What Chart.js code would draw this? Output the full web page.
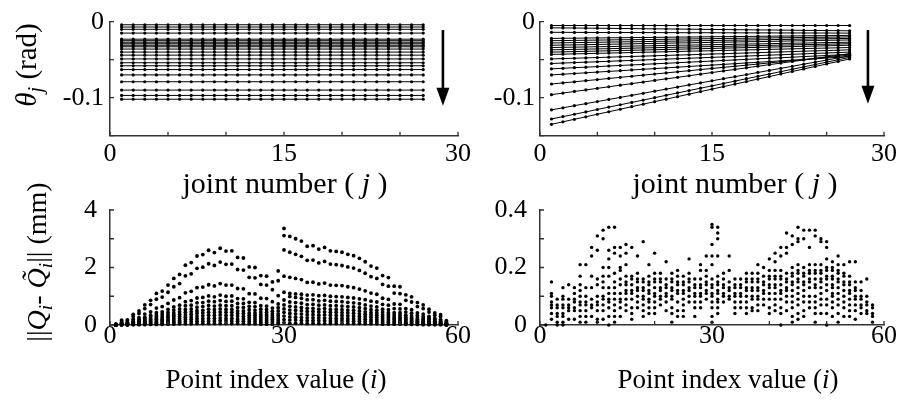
<!DOCTYPE html>
<html>
<head>
<meta charset="utf-8">
<script src="https://cdn.jsdelivr.net/npm/chart.js@4.4.1/dist/chart.umd.min.js"></script>
<style>
  body { margin: 0; background: #fff; }
  #fig { position: relative; width: 906px; height: 401px; overflow: hidden; background: #fff; }
  #fig canvas { position: absolute; left: 0; top: 0; }
  .lab { position: absolute; font-family: 'Liberation Serif', 'Times New Roman', serif; color: #000;
         white-space: nowrap; line-height: 1; transform: translate(-50%, 0); }
  .rot { transform: translate(-50%, -50%) rotate(-90deg); }
  .lab sub { font-size: 0.7em; vertical-align: -0.3em; line-height: 0; }
</style>
</head>
<body>
<div id="fig">
  <canvas id="flat" width="906" height="401"></canvas>
  <canvas id="taper" width="906" height="401"></canvas>
  <canvas id="errA" width="906" height="401"></canvas>
  <canvas id="errB" width="906" height="401"></canvas>

  <div class="lab rot" style="left:26px;top:65px;font-size:29px"><i>θ</i><sub><i>j</i></sub> (rad)</div>
  <div class="lab rot" style="left:37px;top:262px;font-size:28px">||<i>Q</i><sub><i>i</i></sub>- <i>Q̃</i><sub><i>i</i></sub>|| (mm)</div>
  <div class="lab" style="left:285px;top:168px;font-size:30px">joint number ( <i>j</i> )</div>
  <div class="lab" style="left:735px;top:168px;font-size:30px">joint number ( <i>j</i> )</div>
  <div class="lab" style="left:276px;top:366px;font-size:27px">Point index value (<i>i</i>)</div>
  <div class="lab" style="left:728px;top:366px;font-size:27px">Point index value (<i>i</i>)</div>
</div>
<script>
const SERIF = "'Liberation Serif', 'Times New Roman', serif";
const AXIS_COLOR = '#333';

const JOINTS = [1,2,3,4,5,6,7,8,9,10,11,12,13,14,15,16,17,18,19,20,21,22,23,24,25,26,27];

// uniform twist: one angle (rad) held at every joint
const THETA_FLAT = [-0.004,-0.007,-0.010,-0.015,-0.023,-0.025,-0.027,-0.029,-0.031,-0.033,-0.036,
  -0.040,-0.044,-0.049,-0.054,-0.058,-0.063,-0.070,-0.079,-0.090,-0.097,-0.102];

// tapered twist, mrad at joints 1..27
const THETA_TAPER = [
  [-5,-5,-5,-5,-5,-5,-5,-5,-5,-5,-5,-5,-5,-5,-5,-5,-5,-5,-5,-5,-5,-5,-5,-5,-5,-5,-5],
  [-8,-8.2,-8.3,-8.5,-8.6,-8.8,-8.9,-9.1,-9.2,-9.4,-9.5,-9.7,-9.8,-10,-10.2,-10.3,-10.5,-10.6,-10.8,-10.9,-11.1,-11.2,-11.4,-11.5,-11.7,-11.8,-12],
  [-14,-14,-14.1,-14.1,-14.2,-14.2,-14.2,-14.3,-14.3,-14.3,-14.4,-14.4,-14.5,-14.5,-14.5,-14.6,-14.6,-14.7,-14.7,-14.7,-14.8,-14.8,-14.8,-14.9,-14.9,-15,-15],
  [-22,-21.8,-21.7,-21.5,-21.4,-21.2,-21.1,-20.9,-20.8,-20.6,-20.5,-20.3,-20.2,-20,-19.8,-19.7,-19.5,-19.4,-19.2,-19.1,-18.9,-18.8,-18.6,-18.5,-18.3,-18.2,-18],
  [-25,-24.8,-24.6,-24.4,-24.2,-24,-23.8,-23.7,-23.5,-23.3,-23.1,-22.9,-22.7,-22.5,-22.3,-22.1,-21.9,-21.7,-21.5,-21.3,-21.2,-21,-20.8,-20.6,-20.4,-20.2,-20],
  [-28,-27.8,-27.5,-27.3,-27.1,-26.8,-26.6,-26.4,-26.2,-25.9,-25.7,-25.5,-25.2,-25,-24.8,-24.5,-24.3,-24.1,-23.8,-23.6,-23.4,-23.2,-22.9,-22.7,-22.5,-22.2,-22],
  [-31,-30.7,-30.5,-30.2,-29.9,-29.7,-29.4,-29.1,-28.8,-28.6,-28.3,-28,-27.8,-27.5,-27.2,-27,-26.7,-26.4,-26.2,-25.9,-25.6,-25.3,-25.1,-24.8,-24.5,-24.3,-24],
  [-34,-33.7,-33.5,-33.2,-32.9,-32.7,-32.4,-32.1,-31.8,-31.6,-31.3,-31,-30.8,-30.5,-30.2,-30,-29.7,-29.4,-29.2,-28.9,-28.6,-28.3,-28.1,-27.8,-27.5,-27.3,-27],
  [-37,-36.7,-36.4,-36.1,-35.8,-35.5,-35.2,-34.8,-34.5,-34.2,-33.9,-33.6,-33.3,-33,-32.7,-32.4,-32.1,-31.8,-31.5,-31.2,-30.8,-30.5,-30.2,-29.9,-29.6,-29.3,-29],
  [-40,-39.7,-39.3,-39,-38.6,-38.3,-37.9,-37.6,-37.2,-36.9,-36.5,-36.2,-35.8,-35.5,-35.2,-34.8,-34.5,-34.1,-33.8,-33.4,-33.1,-32.7,-32.4,-32,-31.7,-31.3,-31],
  [-43,-42.7,-42.3,-42,-41.6,-41.3,-40.9,-40.6,-40.2,-39.9,-39.5,-39.2,-38.8,-38.5,-38.2,-37.8,-37.5,-37.1,-36.8,-36.4,-36.1,-35.7,-35.4,-35,-34.7,-34.3,-34],
  [-49,-48.5,-48.1,-47.6,-47.2,-46.7,-46.2,-45.8,-45.3,-44.8,-44.4,-43.9,-43.5,-43,-42.5,-42.1,-41.6,-41.2,-40.7,-40.2,-39.8,-39.3,-38.8,-38.4,-37.9,-37.5,-37],
  [-55,-54.4,-53.8,-53.3,-52.7,-52.1,-51.5,-51,-50.4,-49.8,-49.2,-48.7,-48.1,-47.5,-46.9,-46.3,-45.8,-45.2,-44.6,-44,-43.5,-42.9,-42.3,-41.7,-41.2,-40.6,-40],
  [-62,-61.3,-60.5,-59.8,-59.1,-58.3,-57.6,-56.9,-56.2,-55.4,-54.7,-54,-53.2,-52.5,-51.8,-51,-50.3,-49.6,-48.8,-48.1,-47.4,-46.7,-45.9,-45.2,-44.5,-43.7,-43],
  [-70,-69.1,-68.2,-67.2,-66.3,-65.4,-64.5,-63.5,-62.6,-61.7,-60.8,-59.8,-58.9,-58,-57.1,-56.2,-55.2,-54.3,-53.4,-52.5,-51.5,-50.6,-49.7,-48.8,-47.8,-46.9,-46],
  [-82,-80.5,-79.1,-77.6,-76.2,-74.7,-73.2,-71.8,-70.3,-68.8,-67.4,-65.9,-64.5,-63,-61.5,-60.1,-58.6,-57.2,-55.7,-54.2,-52.8,-51.3,-49.8,-48.4,-46.9,-45.5,-44],
  [-96,-93.9,-91.8,-89.8,-87.7,-85.6,-83.5,-81.5,-79.4,-77.3,-75.2,-73.2,-71.1,-69,-66.9,-64.8,-62.8,-60.7,-58.6,-56.5,-54.5,-52.4,-50.3,-48.2,-46.2,-44.1,-42],
  [-116,-113.3,-110.5,-107.8,-105.1,-102.3,-99.6,-96.9,-94.2,-91.4,-88.7,-86,-83.2,-80.5,-77.8,-75,-72.3,-69.6,-66.8,-64.1,-61.4,-58.7,-55.9,-53.2,-50.5,-47.7,-45],
  [-128,-124.9,-121.8,-118.7,-115.5,-112.4,-109.3,-106.2,-103.1,-100,-96.8,-93.7,-90.6,-87.5,-84.4,-81.3,-78.2,-75,-71.9,-68.8,-65.7,-62.6,-59.5,-56.3,-53.2,-50.1,-47],
  [-135,-131.7,-128.4,-125.1,-121.8,-118.5,-115.2,-111.8,-108.5,-105.2,-101.9,-98.6,-95.3,-92,-88.7,-85.4,-82.1,-78.8,-75.5,-72.2,-68.8,-65.5,-62.2,-58.9,-55.6,-52.3,-49]
];

const POINT_INDEX = [1,2,3,4,5,6,7,8,9,10,11,12,13,14,15,16,17,18,19,20,21,22,23,24,25,26,27,28,29,30,
  31,32,33,34,35,36,37,38,39,40,41,42,43,44,45,46,47,48,49,50,51,52,53,54,55,56,57,58];

// position error of the first case, hundredths of mm; one row per configuration
const ERR_ROWS = [
  [3,17,18,37,49,70,86,110,118,139,162,176,208,217,240,245,260,252,267,257,258,235,233,202,200,172,170,150,188,336,
   308,300,292,274,276,264,270,258,256,253,246,241,232,220,205,198,172,165,135,133,105,98,78,70,55,42,36,15],
  [2,14,15,30,40,57,71,90,97,114,133,144,171,178,197,201,213,207,219,211,212,193,191,166,164,141,139,123,154,311,
   253,246,239,225,226,216,221,212,210,207,202,198,190,180,168,162,141,135,111,109,86,80,64,57,45,34,30,12],
  [2,9,10,20,26,38,46,59,64,75,87,95,112,117,130,132,140,136,144,139,139,127,126,109,108,93,92,81,102,261,
   166,162,158,148,149,143,146,139,138,137,133,130,125,119,111,107,93,89,73,72,57,53,42,38,30,23,19,8],
  [1,7,7,14,19,27,34,43,46,54,63,69,81,85,94,96,101,98,104,100,101,92,91,79,78,67,66,59,73,170,
   110,108,107,104,105,102,103,100,99,98,96,94,91,88,83,80,72,69,57,56,45,41,33,29,23,18,15,6],
  [1,5,6,12,16,22,28,35,38,44,52,56,67,69,77,78,83,81,85,82,83,75,75,65,64,55,54,48,60,114,
   99,96,93,88,88,84,86,83,82,81,79,77,74,70,66,63,55,53,43,43,34,31,25,22,18,13,12,5],
  [1,4,5,10,13,18,22,29,31,36,42,46,54,56,62,64,68,66,69,67,67,61,61,53,52,45,44,39,49,87,
   80,78,76,71,72,69,70,67,67,66,64,63,60,57,53,51,45,43,35,35,27,25,20,18,14,11,9,4],
  [1,4,4,8,10,15,18,23,25,29,34,37,44,46,50,51,55,53,56,54,54,49,49,42,42,36,36,32,39,70,
   65,63,61,58,58,55,57,54,54,53,52,51,49,46,43,42,36,35,28,28,22,21,16,15,12,9,8,3],
  [1,3,3,6,8,12,15,19,20,24,28,30,35,37,41,42,44,43,45,44,44,40,40,34,34,29,29,26,32,56,
   52,51,50,47,47,45,46,44,44,43,42,41,39,37,35,34,29,28,23,23,18,17,13,12,9,7,6,3],
  [0,2,2,5,6,9,11,14,15,18,21,23,27,28,31,32,34,33,35,33,34,31,30,26,26,22,22,20,24,44,
   40,39,38,36,36,34,35,34,33,33,32,31,30,29,27,26,22,21,18,17,14,13,10,9,7,5,5,2],
  [0,2,2,3,4,6,8,10,11,13,15,16,19,20,22,22,23,23,24,23,23,21,21,18,18,15,15,14,17,31,
   28,27,26,25,25,24,24,23,23,23,22,22,21,20,18,18,15,15,12,12,9,9,7,6,5,4,3,1],
  [0,1,1,2,3,4,5,6,6,8,9,10,11,12,13,13,14,14,15,14,14,13,13,11,11,9,9,8,10,19,
   17,17,16,15,15,15,15,14,14,14,14,13,13,12,11,11,9,9,7,7,6,5,4,4,3,2,2,1],
  [0,0,0,1,1,1,2,2,2,3,3,4,4,4,5,5,5,5,5,5,5,5,5,4,4,3,3,3,4,8,
   6,6,6,5,6,5,5,5,5,5,5,5,5,4,4,4,3,3,3,3,2,2,2,1,1,1,1,0]
];

// position error of the second case, hundredths of mm; dots at each point index
const ERR_SPREAD = [
  [0],
  [15,11,10,8,7,6,4,2],
  [9,7,6,4,3,1,0],
  [13,10,9,7,6,4,3,1,0],
  [14,9,7,6,5,2],
  [13,11,9,8,6,5,2],
  [21,17,14,12,10,8,7,5,3,1],
  [21,13,10,8,7,5,3,1],
  [27,24,17,13,9,7,6,3],
  [31,26,16,14,10,8,7,5,2,1],
  [33,30,20,17,15,13,10,9,7,5,2],
  [34,26,23,20,17,13,11,9,8,6,3,0],
  [34,27,25,18,15,13,11,9,7,5,3,1],
  [27,24,20,19,16,14,11,9,8,6,3],
  [28,25,21,17,15,14,12,11,9,7,5],
  [27,17,16,14,12,11,9,6,4,2],
  [24,18,16,15,13,12,10,8,6],
  [29,16,15,13,12,10,9,7,5,3],
  [21,17,15,14,12,11,9,8,6,4],
  [25,18,16,15,13,11,10,8,6,4],
  [18,16,15,13,12,10,9,7],
  [22,16,14,13,11,10,8,5],
  [18,16,15,13,12,10,9,6,4,1],
  [19,17,15,14,12,11,8,5,3],
  [17,15,14,12,11,9,7,5,3],
  [23,18,16,15,13,12,10,8],
  [16,14,13,11,10,8,6,3],
  [21,19,16,14,13,11,10,8,6],
  [24,19,17,15,14,12,11,9],
  [35,34,28,24,21,16,14,13,11,10,8,6,3,1],
  [34,32,30,24,17,15,14,12,11,9,8,6,4],
  [18,16,14,13,11,10,8],
  [24,19,15,13,12,10,9],
  [16,14,13,11,10,8,6,4],
  [16,14,13,11,10,8,6],
  [18,16,15,13,12,10,8,6,4],
  [18,16,15,13,12,10,9,6,5],
  [21,18,16,15,13,12,10,9,7,5],
  [20,17,15,14,12,11,9,7],
  [23,19,17,16,14,13,11,9,6,4],
  [25,22,19,17,16,14,13,11,9,7,5],
  [27,24,19,17,16,14,12,11,9,6,4,0],
  [32,27,25,18,16,15,13,12,10,8,5],
  [31,28,20,18,17,15,14,12,10,8,6,3,1],
  [34,30,29,21,19,18,16,15,13,11,9,7,4,2],
  [33,30,20,18,17,15,14,12,10,8,5,3],
  [33,27,21,19,18,16,15,13,10,8,6],
  [33,31,21,19,18,16,14,13,10,8,6,4,1],
  [30,29,21,19,18,16,15,13,11,9,7,4],
  [29,27,23,20,19,17,16,14,12,9,7,4,0],
  [22,20,19,17,16,14,13,11,10,8,6,3],
  [24,21,19,18,16,15,13,11,9,7,4,1],
  [21,18,17,15,14,12,10,8,6,3],
  [22,17,15,14,12,11,9,7,5,3],
  [22,15,13,12,10,9,7,5,2],
  [15,12,10,9,7,6,4],
  [16,10,8,7,5,4],
  [7,6,4,3,1]
];

const X_LABELS_TOP = [0, 15, 30];
const Y_LABELS_TOP = [0, -0.1];
const X_LABELS_BOTTOM = [0, 30, 60];
const Y_LABELS_ERR_A = [0, 2, 4];
const Y_LABELS_ERR_B = [0, 0.2, 0.4];

function near(a, b){ return Math.abs(a - b) < 1e-9; }

function axis(opts){
  const {min, max, step, labels, size, pad, isX} = opts;
  return {
    type: 'linear', min, max,
    grid: { display: false, drawTicks: false },
    border: { display: true, color: AXIS_COLOR, width: 1.5 },
    ticks: {
      stepSize: step, autoSkip: false, maxRotation: 0, minRotation: 0, padding: pad,
      color: '#000', font: { family: SERIF, size, lineHeight: 1 },
      callback: v => labels.some(l => near(l, v)) ? String(Number(v.toFixed(6))) : ''
    },
    afterFit: s => { if (isX) s.height = 40; else s.width = 60; }
  };
}

// short tick marks drawn into the plot area
const inwardTicks = {
  id: 'inwardTicks',
  afterDraw(chart){
    const {ctx, chartArea: a, scales: {x, y}} = chart;
    ctx.save();
    ctx.strokeStyle = AXIS_COLOR;
    ctx.lineWidth = 1.3;
    ctx.beginPath();
    x.ticks.forEach(t => { const px = x.getPixelForValue(t.value); ctx.moveTo(px, a.bottom); ctx.lineTo(px, a.bottom - 4); });
    y.ticks.forEach(t => { const py = y.getPixelForValue(t.value); ctx.moveTo(a.left, py); ctx.lineTo(a.left + 4, py); });
    ctx.stroke();
    ctx.restore();
  }
};

// downward arrow giving the direction of growing twist
const downArrow = {
  id: 'downArrow',
  afterDatasetsDraw(chart, args, o){
    if (!o || o.x == null) return;
    const {ctx, scales: {x, y}} = chart;
    const px = x.getPixelForValue(o.x);
    const y0 = y.getPixelForValue(o.from), y1 = y.getPixelForValue(o.to);
    ctx.save();
    ctx.strokeStyle = '#000'; ctx.fillStyle = '#000';
    ctx.lineWidth = 2.6;
    ctx.beginPath(); ctx.moveTo(px, y0); ctx.lineTo(px, y1 - 15); ctx.stroke();
    ctx.beginPath(); ctx.moveTo(px - 6.5, y1 - 18); ctx.lineTo(px + 6.5, y1 - 18); ctx.lineTo(px, y1); ctx.closePath(); ctx.fill();
    ctx.restore();
  }
};

const lineStyle = { showLine: true, borderColor: '#000', borderWidth: 1, pointRadius: 1.6,
  pointBackgroundColor: '#000', pointBorderWidth: 0, clip: false };
const dotStyle = { showLine: false, pointRadius: 1.7, pointBackgroundColor: '#000', pointBorderWidth: 0, clip: false };

function panel(id, datasets, scales, padding, arrow){
  return new Chart(document.getElementById(id), {
    type: 'scatter',
    data: { datasets },
    options: {
      responsive: false, animation: false, devicePixelRatio: 1,
      layout: { padding },
      plugins: { legend: { display: false }, tooltip: { enabled: false }, downArrow: arrow || {} },
      scales
    },
    plugins: [inwardTicks, downArrow]
  });
}

panel('flat',
  THETA_FLAT.map(v => ({ ...lineStyle, data: JOINTS.map(j => ({ x: j, y: v })) })),
  { x: axis({ min: 0, max: 30, step: 5, labels: X_LABELS_TOP, size: 26, pad: 5, isX: true }),
    y: axis({ min: -0.15, max: 0, step: 0.05, labels: Y_LABELS_TOP, size: 26, pad: 6 }) },
  { left: 50, right: 448, top: 21.7, bottom: 225.3 },
  { x: 28.7, from: -0.011, to: -0.1105 });

panel('taper',
  THETA_TAPER.map(row => ({ ...lineStyle, data: row.map((v, k) => ({ x: JOINTS[k], y: v / 1000 })) })),
  { x: axis({ min: 0, max: 30, step: 5, labels: X_LABELS_TOP, size: 26, pad: 5, isX: true }),
    y: axis({ min: -0.15, max: 0, step: 0.05, labels: Y_LABELS_TOP, size: 26, pad: 5 }) },
  { left: 480, right: 22, top: 21.7, bottom: 225.3 },
  { x: 28.6, from: -0.011, to: -0.108 });

panel('errA',
  ERR_ROWS.map(row => ({ ...dotStyle, pointRadius: 1.9, data: row.map((v, k) => ({ x: POINT_INDEX[k], y: v / 100 })) })),
  { x: axis({ min: 0, max: 60, step: 10, labels: X_LABELS_BOTTOM, size: 26, pad: -2, isX: true }),
    y: axis({ min: 0, max: 4, step: 1, labels: Y_LABELS_ERR_A, size: 26, pad: 13 }) },
  { left: 50, right: 448, top: 210, bottom: 36 });

panel('errB',
  [{ ...dotStyle, data: ERR_SPREAD.flatMap((col, k) => col.map(v => ({ x: POINT_INDEX[k], y: v / 100 }))) }],
  { x: axis({ min: 0, max: 60, step: 10, labels: X_LABELS_BOTTOM, size: 26, pad: -2, isX: true }),
    y: axis({ min: 0, max: 0.4, step: 0.1, labels: Y_LABELS_ERR_B, size: 26, pad: 13 }) },
  { left: 480, right: 22, top: 210, bottom: 36 });
</script>
</body>
</html>
